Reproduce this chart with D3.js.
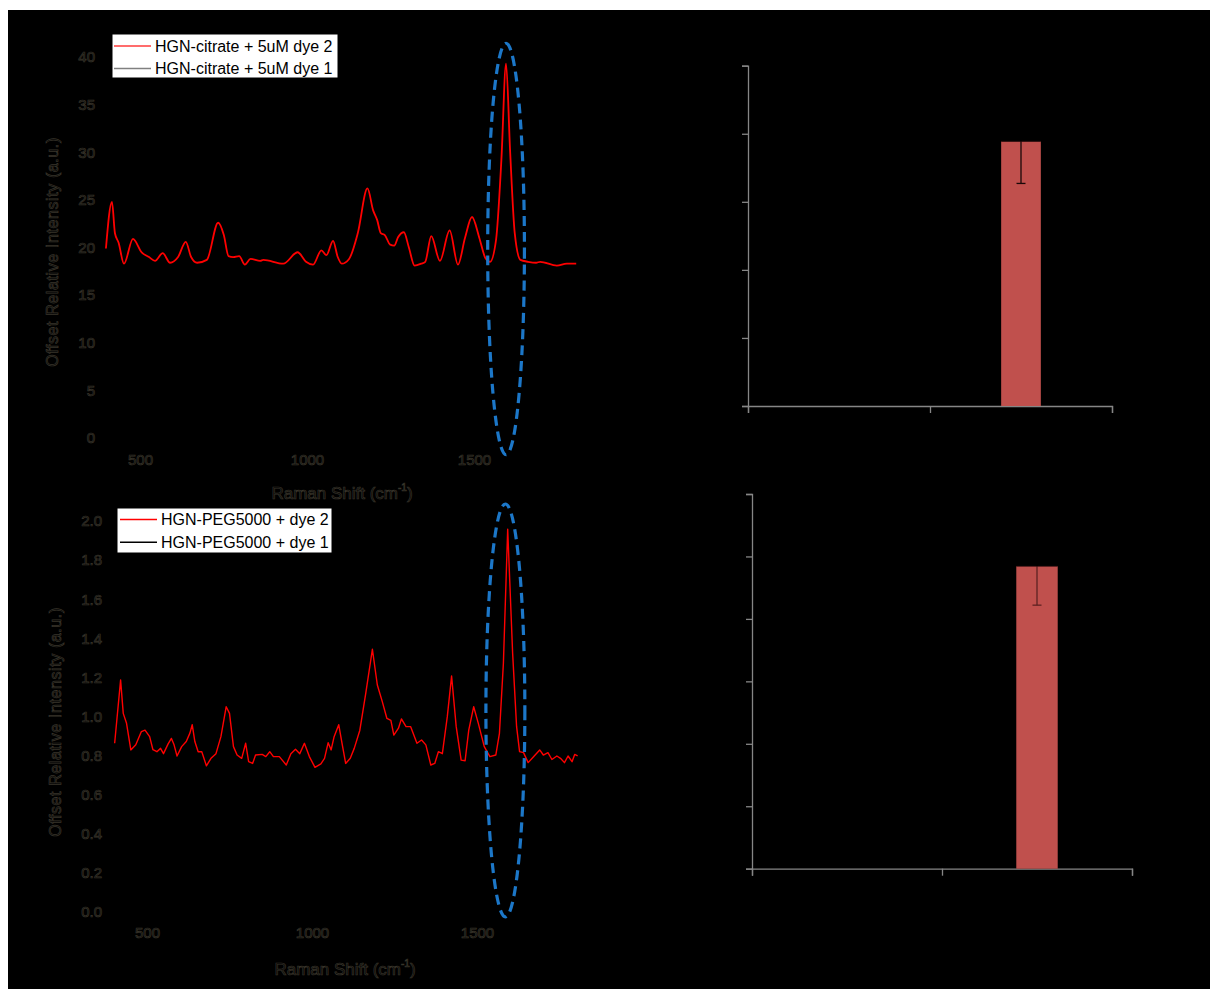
<!DOCTYPE html>
<html><head><meta charset="utf-8">
<script src="https://cdn.jsdelivr.net/npm/d3@7"></script>
<style>
html,body{margin:0;padding:0;background:#fff;}
svg{display:block;}
</style></head>
<body>
<script>
// ---------- DATA ----------
const legendTop = ["HGN-citrate + 5uM dye 2", "HGN-citrate + 5uM dye 1"];
const legendBottom = ["HGN-PEG5000 + dye 2", "HGN-PEG5000 + dye 1"];
const xTicks = [500, 1000, 1500];
const yTicksTop = [0, 5, 10, 15, 20, 25, 30, 35, 40];
const yTicksBottom = [0, 0.2, 0.4, 0.6, 0.8, 1.0, 1.2, 1.4, 1.6, 1.8, 2.0];

const topShift = [398,416,425,436,452,479,505,527,545,568,590,614,637,653,671,700,734,751,765,779,797,814,831,860,869,929,972,997,1018,1043,1058,1078,1092,1104,1126,1152,1181,1198,1210,1221,1233,1249,1261,1273,1290,1305,1322,1342,1354,1372,1398,1427,1452,1473,1494,1516,1534,1548,1566,1582,1596,1608,1622,1639,1662,1686,1698,1748,1778,1806];
const topIntensity = [19.9,24.8,21.5,20.5,18.3,20.9,19.5,19.0,18.6,19.4,18.4,19.0,20.6,19.0,18.4,18.7,22.6,21.3,19.1,19.0,19.1,18.2,18.8,18.6,18.7,18.3,19.5,18.5,18.2,19.7,19.2,20.7,19.0,18.3,18.8,21.5,26.2,23.9,22.9,21.5,21.3,20.3,20.2,21.1,21.6,20.0,18.1,18.3,18.5,21.2,18.6,21.8,18.2,21.0,23.2,21.0,18.9,18.5,20.8,29.2,39.3,30.2,21.5,18.7,18.5,18.4,18.5,18.1,18.3,18.3];

const bottomShift = [402,420,428,438,451,466,483,494,508,518,530,541,550,564,574,582,591,605,619,630,637,645,655,666,680,694,709,724,740,750,762,773,787,799,808,820,829,849,860,872,883,901,922,936,950,963,977,992,1009,1027,1038,1049,1058,1067,1081,1091,1102,1116,1128,1145,1163,1183,1198,1213,1227,1239,1248,1262,1271,1285,1299,1318,1332,1345,1360,1372,1383,1395,1410,1423,1437,1452,1464,1475,1490,1504,1522,1539,1557,1568,1580,1593,1608,1620,1629,1641,1655,1672,1690,1701,1715,1727,1742,1753,1765,1776,1788,1796,1805];
const bottomIntensity = [0.863,1.187,1.016,0.965,0.829,0.855,0.923,0.930,0.897,0.830,0.820,0.837,0.810,0.860,0.888,0.855,0.798,0.846,0.872,0.915,0.958,0.872,0.820,0.820,0.748,0.786,0.810,0.897,1.050,1.016,0.846,0.803,0.786,0.863,0.769,0.760,0.803,0.806,0.795,0.820,0.795,0.795,0.752,0.810,0.832,0.810,0.863,0.795,0.740,0.758,0.786,0.866,0.829,0.897,0.958,0.863,0.760,0.786,0.837,0.930,1.120,1.344,1.161,1.076,0.990,0.980,0.905,0.940,0.988,0.948,0.948,0.863,0.880,0.855,0.752,0.760,0.820,0.810,0.999,1.207,0.948,0.777,0.774,0.930,1.050,0.965,0.846,0.795,0.803,0.914,1.272,1.958,1.323,0.948,0.820,0.815,0.764,0.795,0.829,0.803,0.815,0.780,0.798,0.786,0.764,0.798,0.769,0.806,0.798];

// highlight ellipses (data units: centre shift, centre intensity, half-width, half-height)
const ellipseTop = [1596, 19.84, 55, 21.6];
const ellipseBottom = [1586, 1.031, 59, 1.056];

// bar charts
const barCategories = ["dye 1", "dye 2"];
const barTopValue = 3.89, barTopError = 0.62;
const barTopTicks = [0, 1, 2, 3, 4, 5];
const barBottomValue = 4.84, barBottomError = 0.62;
const barBottomTicks = [0, 1, 2, 3, 4, 5, 6];

// ---------- DRAW ----------
const W = 1210, H = 989;
const svg = d3.select("body").append("svg").attr("width", W).attr("height", H);
svg.append("rect").attr("x", 8).attr("y", 10).attr("width", W - 8).attr("height", H - 10).attr("fill", "#000");

const FONT = "'Liberation Sans', Arial, sans-serif";
function dimText(sel) {
  sel.attr("fill", "#050505").attr("stroke", "#38342a").attr("stroke-width", 0.7)
     .attr("font-family", FONT);
}

function spectrum(cfg) {
  const x = d3.scaleLinear().domain([400, 1800]).range(cfg.xRange);
  const y = d3.scaleLinear().domain(cfg.yDomain).range(cfg.yRange);
  const g = svg.append("g");

  const ya = g.append("g").attr("transform", `translate(${cfg.yAxisX},0)`)
    .call(d3.axisLeft(y).tickValues(cfg.yTicks).tickSize(0).tickPadding(cfg.yPad).tickFormat(cfg.yFmt));
  ya.select(".domain").attr("stroke", "#000");
  ya.selectAll("text").call(dimText).attr("font-size", 15);

  const xa = g.append("g").attr("transform", `translate(0,${cfg.xAxisY})`)
    .call(d3.axisBottom(x).tickValues(xTicks).tickSize(0).tickPadding(6).tickFormat(d3.format("d")));
  xa.select(".domain").attr("stroke", "#000");
  xa.selectAll("text").call(dimText).attr("font-size", 15);

  const xt = g.append("text").attr("x", cfg.xTitle[0]).attr("y", cfg.xTitle[1])
    .attr("text-anchor", "middle").attr("dominant-baseline", "central").attr("font-size", 17).call(dimText);
  xt.append("tspan").text("Raman Shift (cm");
  xt.append("tspan").attr("baseline-shift", "super").attr("font-size", 10).text("-1");
  xt.append("tspan").text(")");

  g.append("text").attr("transform", `translate(${cfg.yTitle[0]},${cfg.yTitle[1]}) rotate(-90)`)
    .attr("text-anchor", "middle").attr("dominant-baseline", "central").attr("font-size", 16)
    .attr("letter-spacing", 0.6).call(dimText).text("Offset Relative Intensity (a.u.)");

  const data = cfg.shift.map((s, i) => [s, cfg.values[i]]);
  g.append("path").datum(data)
    .attr("fill", "none").attr("stroke", "#ff0000").attr("stroke-width", cfg.lw)
    .attr("stroke-linejoin", "round")
    .attr("d", d3.line().x(d => x(d[0])).y(d => y(d[1])).curve(cfg.curve));

  const e = cfg.ellipse;
  g.append("ellipse")
    .attr("cx", x(e[0])).attr("cy", y(e[1]))
    .attr("rx", x(e[0] + e[2]) - x(e[0])).attr("ry", y(e[1] - e[3]) - y(e[1]))
    .attr("fill", "none").attr("stroke", "#1c77c8").attr("stroke-width", 3.2)
    .attr("stroke-dasharray", "10 6");

  const L = cfg.legend;
  g.append("rect").attr("x", L.x).attr("y", L.y).attr("width", L.w).attr("height", L.h)
    .attr("fill", "#fff").attr("stroke", "#000").attr("stroke-width", 1);
  cfg.labels.forEach((t, i) => {
    const yy = L.rows[i];
    g.append("line").attr("x1", L.lx1).attr("x2", L.lx2).attr("y1", yy).attr("y2", yy)
      .attr("stroke", cfg.legendColors[i]).attr("stroke-width", 1.5);
    g.append("text").attr("x", L.tx).attr("y", yy).attr("dominant-baseline", "central")
      .attr("font-family", FONT).attr("font-size", 16).attr("fill", "#000").text(t);
  });
}

spectrum({
  xRange: [106.6, 574.2], yDomain: [0, 40], yRange: [438, 57],
  yAxisX: 104, yPad: 9, yTicks: yTicksTop, yFmt: d3.format("d"), xAxisY: 448,
  xTitle: [342, 493], yTitle: [52, 252],
  shift: topShift, values: topIntensity, lw: 1.8, curve: d3.curveMonotoneX,
  ellipse: ellipseTop,
  legend: {x: 112, y: 34, w: 226, h: 44, rows: [46, 68.5], lx1: 114, lx2: 151, tx: 155},
  labels: legendTop, legendColors: ["#ff3b3b", "#808080"]
});

spectrum({
  xRange: [114, 576], yDomain: [0, 2], yRange: [912, 521],
  yAxisX: 111, yPad: 9, yTicks: yTicksBottom, yFmt: d3.format(".1f"), xAxisY: 921,
  xTitle: [345, 969], yTitle: [55, 722],
  shift: bottomShift, values: bottomIntensity, lw: 1.4, curve: d3.curveLinear,
  ellipse: ellipseBottom,
  legend: {x: 117, y: 508, w: 215, h: 45, rows: [519.5, 542.3], lx1: 120, lx2: 157, tx: 161},
  labels: legendBottom, legendColors: ["#ff0000", "#000000"]
});

function barChart(cfg) {
  const y = d3.scaleLinear().domain([0, cfg.ticks[cfg.ticks.length - 1]]).range(cfg.yRange);
  const xb = d3.scaleBand().domain(barCategories).range(cfg.xRange);
  const xl = d3.scaleLinear().domain([0, barCategories.length]).range(cfg.xRange);
  const g = svg.append("g");
  const ya = g.append("g").attr("transform", `translate(${cfg.xRange[0]},0)`)
    .call(d3.axisLeft(y).tickValues(cfg.ticks).tickSize(6).tickFormat(""));
  const xa = g.append("g").attr("transform", `translate(0,${cfg.yRange[0]})`)
    .call(d3.axisBottom(xl).tickValues(d3.range(barCategories.length + 1)).tickSize(7).tickFormat(""));
  [ya, xa].forEach(a => {
    a.select(".domain").attr("stroke", "#868686").attr("stroke-width", 1.3);
    a.selectAll(".tick line").attr("stroke", "#868686").attr("stroke-width", 1.3);
  });
  const bw = xb.bandwidth() * 0.218;
  const cx = xb("dye 2") + xb.bandwidth() / 2;
  g.append("rect").attr("x", cx - bw / 2).attr("y", y(cfg.value)).attr("width", bw)
    .attr("height", y(0) - y(cfg.value)).attr("fill", "#c0504d");
  g.append("line").attr("x1", cx - bw / 2).attr("x2", cx + bw / 2)
    .attr("y1", y(cfg.value)).attr("y2", y(cfg.value)).attr("stroke", cfg.errColor).attr("stroke-width", 1);
  const lo = y(cfg.value - cfg.err), hi = y(cfg.value + cfg.err);
  // upper whisker lies on the black background (black, as in the source)
  g.append("line").attr("x1", cx).attr("x2", cx).attr("y1", hi).attr("y2", y(cfg.value))
    .attr("stroke", "#000").attr("stroke-width", 1.3);
  g.append("line").attr("x1", cx - 4.5).attr("x2", cx + 4.5).attr("y1", hi).attr("y2", hi)
    .attr("stroke", "#000").attr("stroke-width", 1.3);
  g.append("line").attr("x1", cx).attr("x2", cx).attr("y1", y(cfg.value)).attr("y2", lo)
    .attr("stroke", cfg.errColor).attr("stroke-width", 1.3);
  g.append("line").attr("x1", cx - 4.5).attr("x2", cx + 4.5).attr("y1", lo).attr("y2", lo)
    .attr("stroke", cfg.errColor).attr("stroke-width", 1.3);
}

barChart({xRange: [748, 1112], yRange: [406, 65.7], ticks: barTopTicks,
  value: barTopValue, err: barTopError, errColor: "#1a0808"});
barChart({xRange: [752, 1132], yRange: [868.7, 494], ticks: barBottomTicks,
  value: barBottomValue, err: barBottomError, errColor: "#5e2222"});
</script>
</body></html>
